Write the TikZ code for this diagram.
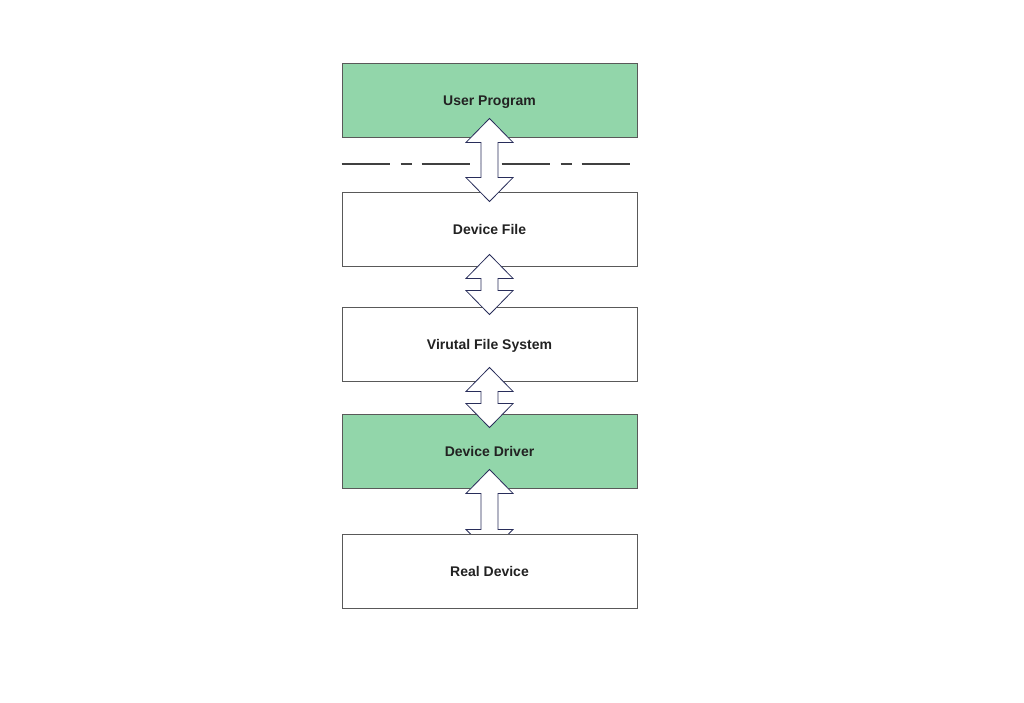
\documentclass[tikz,border=0pt]{standalone}
\usepackage{fontspec}
\setmainfont{Liberation Sans}
\usetikzlibrary{calc}
\definecolor{boxgreen}{RGB}{146,214,170}
\definecolor{arrowline}{RGB}{40,45,90}
\definecolor{textdark}{RGB}{34,34,34}
\tikzset{
  layer/.style={draw=black!65,line width=0.9pt,fill=white,minimum width=295pt,minimum height=74pt,inner sep=0pt,
    text height=10pt,text depth=0pt,font=\fontsize{14}{16}\selectfont\bfseries,text=textdark},
  greenlayer/.style={layer,fill=boxgreen},
  fatarrow/.style={draw=arrowline,line width=0.8pt,fill=white,line join=miter}
}
% double arrow between two tip points
\newcommand{\bigarrow}[2]{%
  \draw[fatarrow] (#1) -- ++(23.5,24) -- ++(-15,0) -- ($(#2)+(8.5,-24)$) -- ++(15,0) -- (#2)
    -- ++(-23.5,-24) -- ++(15,0) -- ($(#1)+(-8.5,24)$) -- ++(-15,0) -- cycle;}
\begin{document}
\begin{tikzpicture}[x=1pt,y=-1pt]
  \useasboundingbox (0,0) rectangle (1024,702);
  \node[greenlayer] (prog) at (489.5,100) {User Program};
  \node[layer] (file) at (489.5,229) {Device File};
  \node[layer] (vfs) at (489.5,344) {Virutal File System};
  \node[greenlayer] (drv) at (489.5,451) {Device Driver};
  % user / kernel boundary
  \draw[black!75,line width=2pt,dash pattern=on 48pt off 11pt on 11pt off 10pt]
    (prog.south west |- 0,164) -- (631,164);
  \coordinate (a1t) at ([yshift=19pt]prog.south);
  \coordinate (a1b) at ([yshift=-10pt]file.north);
  \coordinate (a2t) at ([yshift=12pt]file.south);
  \coordinate (a2b) at ([yshift=-8pt]vfs.north);
  \coordinate (a3t) at ([yshift=14pt]vfs.south);
  \coordinate (a3b) at ([yshift=-14pt]drv.north);
  \coordinate (a4t) at ([yshift=19pt]drv.south);
  \coordinate (a4b) at ([yshift=-65pt]drv.south);
  \bigarrow{a1t}{a1b}
  \bigarrow{a2t}{a2b}
  \bigarrow{a3t}{a3b}
  \bigarrow{a4t}{a4b}
  \node[layer] (dev) at (489.5,571) {Real Device};
\end{tikzpicture}
\end{document}
